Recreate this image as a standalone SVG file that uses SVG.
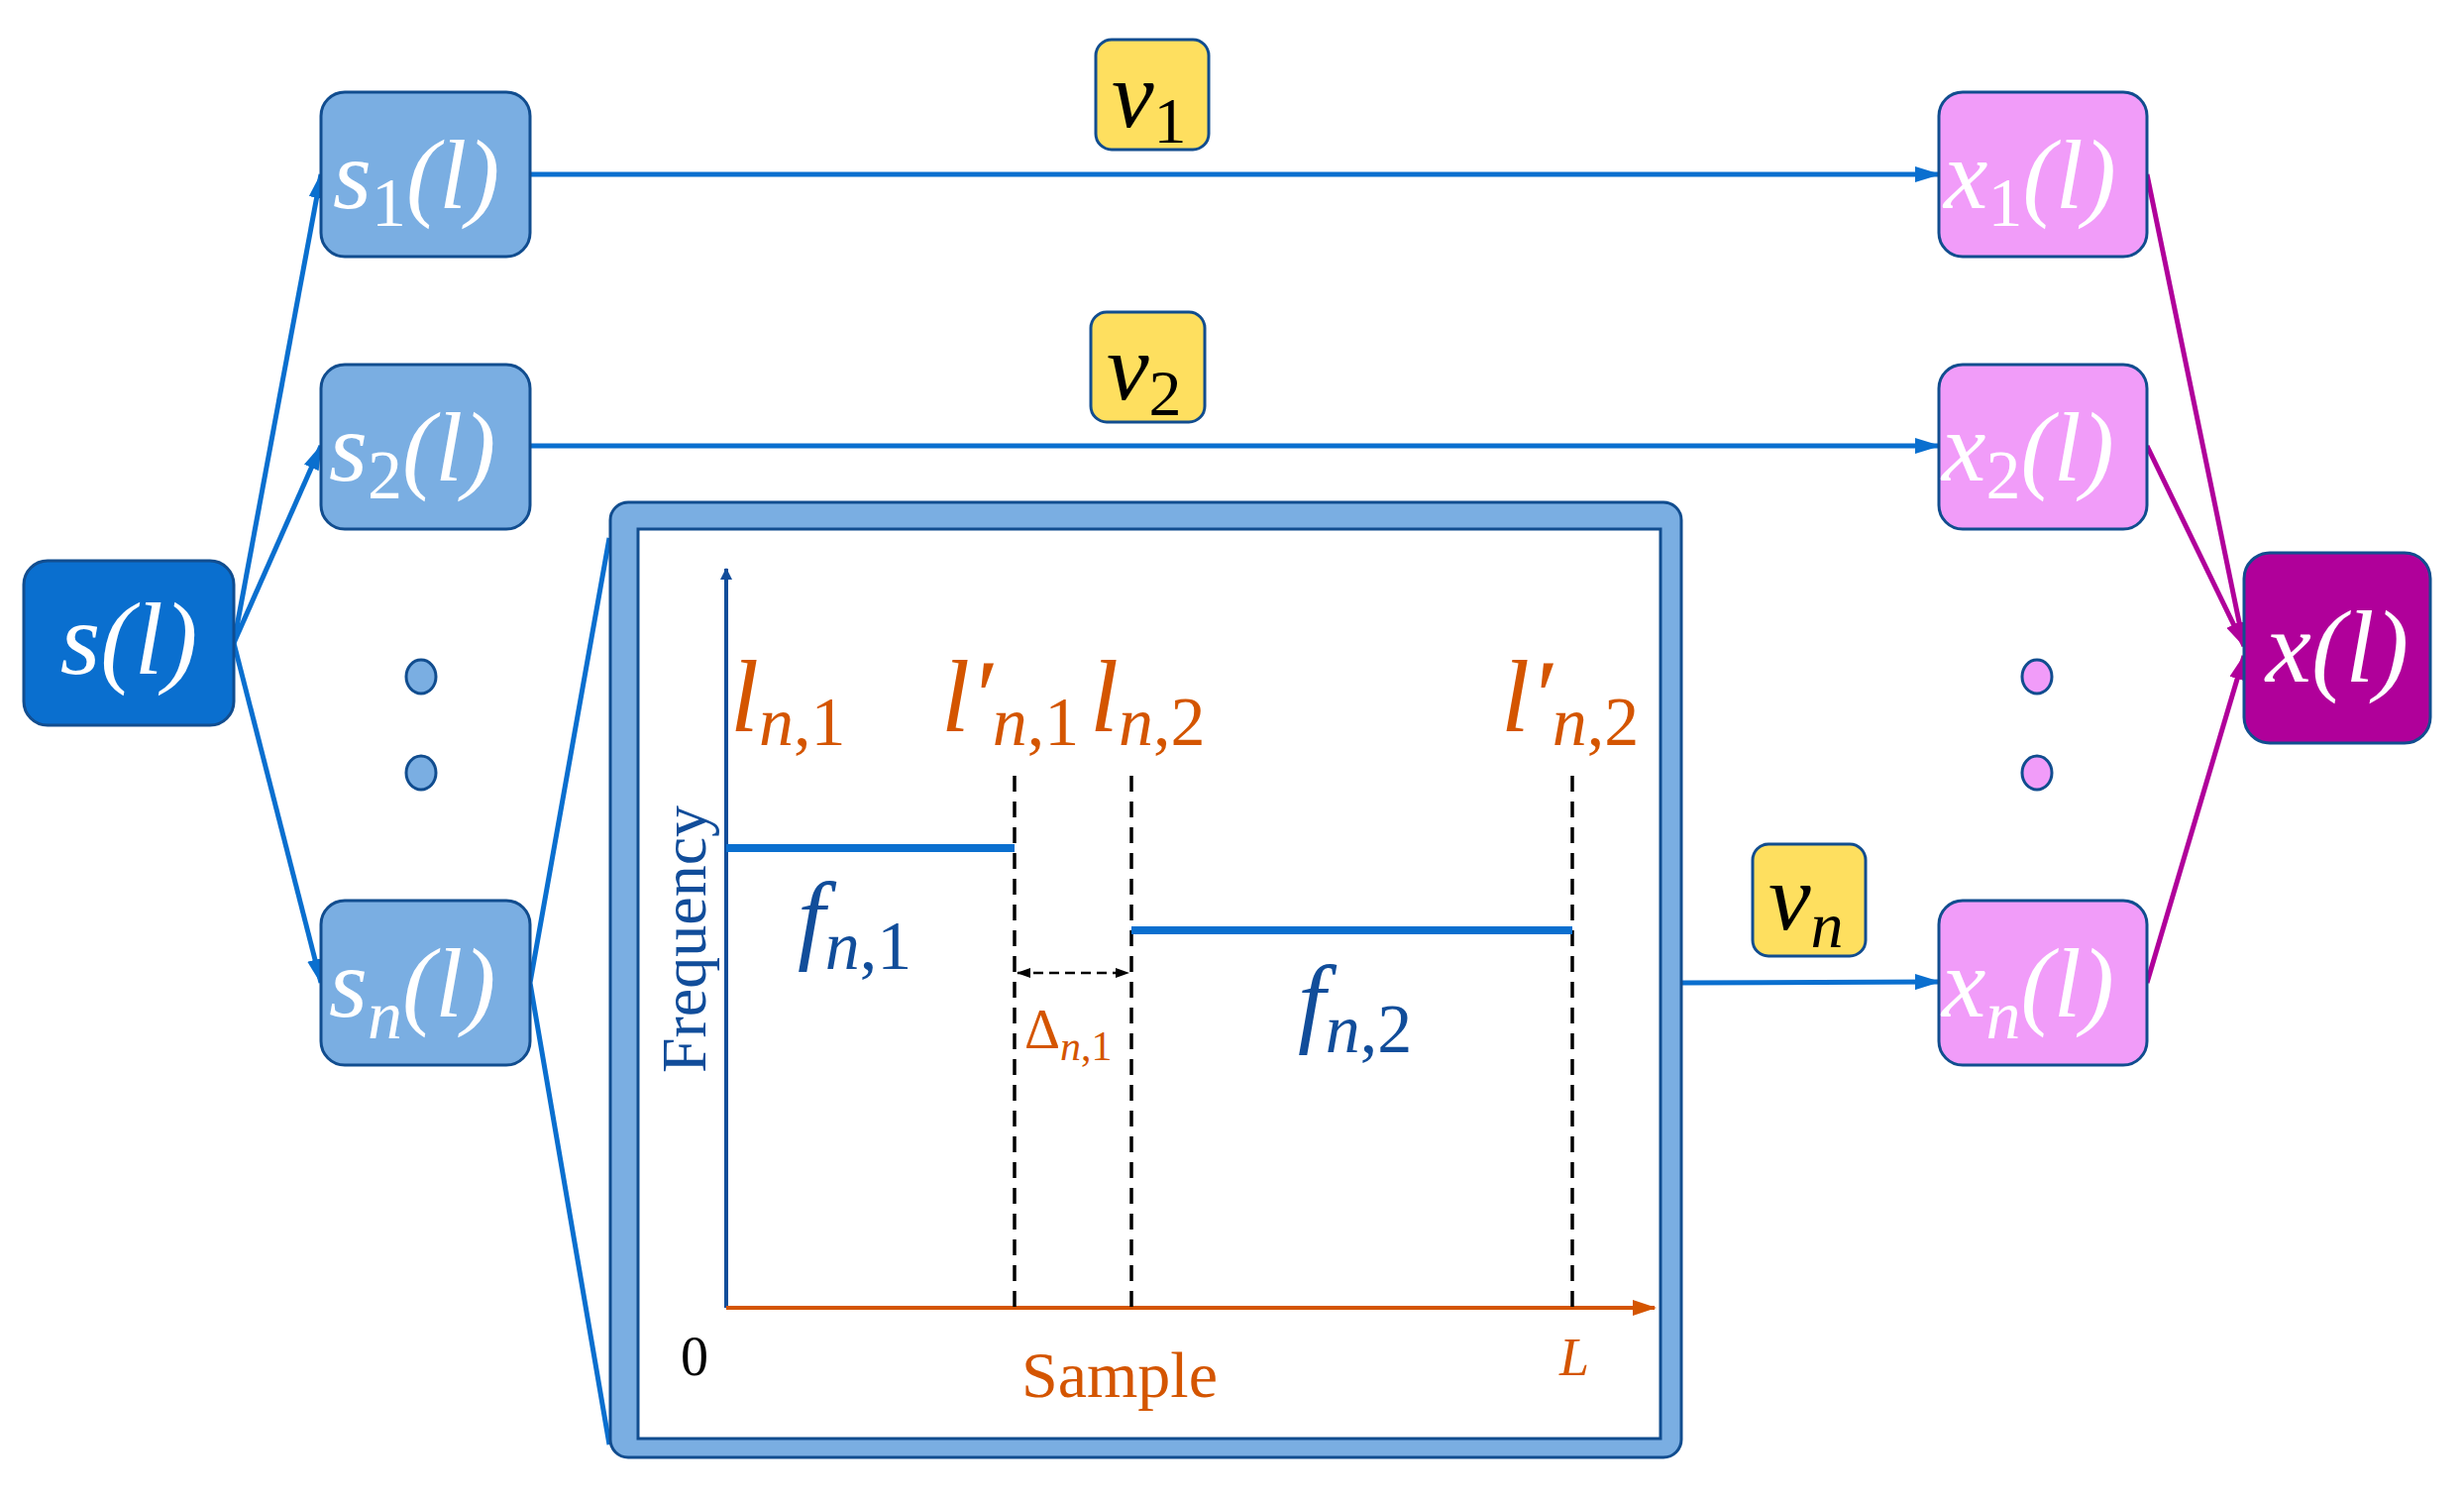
<svg xmlns="http://www.w3.org/2000/svg" width="2487" height="1513" viewBox="0 0 2487 1513">
<defs>
<style>
.m{font-family:"Liberation Serif",serif;font-style:italic}
.w{fill:#fff}
.bl{stroke:#0a6fcf;stroke-width:5;fill:none}
.mg{stroke:#b0009a;stroke-width:5;fill:none}
.sb{fill:#7aaee2;stroke:#114d8f;stroke-width:3}
.xb{fill:#f19cf9;stroke:#114d8f;stroke-width:3}
.vb{fill:#fedf5f;stroke:#114d8f;stroke-width:3}
.or{fill:#d45500}
.dk{fill:#114d9a}
.dotb{fill:#7aaee2;stroke:#114d8f;stroke-width:3}
.dotx{fill:#f19cf9;stroke:#114d8f;stroke-width:3}
</style>
<marker id="ab" markerWidth="12" markerHeight="12" refX="11" refY="6" orient="auto" markerUnits="userSpaceOnUse"><path d="M0,0L12,6L0,12z" fill="#114d9a"/></marker>
<marker id="ab2" markerWidth="26" markerHeight="16" refX="24" refY="8" orient="auto" markerUnits="userSpaceOnUse"><path d="M0,0L26,8L0,16z" fill="#0a6fcf"/></marker>
<marker id="am" markerWidth="26" markerHeight="16" refX="24" refY="8" orient="auto" markerUnits="userSpaceOnUse"><path d="M0,0L26,8L0,16z" fill="#b0009a"/></marker>
<marker id="ao" markerWidth="24" markerHeight="16" refX="22" refY="8" orient="auto" markerUnits="userSpaceOnUse"><path d="M0,0L24,8L0,16z" fill="#d45500"/></marker>
<marker id="ak" markerWidth="14" markerHeight="10" refX="13" refY="5" orient="auto-start-reverse" markerUnits="userSpaceOnUse"><path d="M0,0L14,5L0,10z" fill="#000"/></marker>
</defs>
<g id="connectors">
<path class="bl" marker-end="url(#ab2)" d="M236,649L324,176"/>
<path class="bl" marker-end="url(#ab2)" d="M236,649L324,450"/>
<path class="bl" marker-end="url(#ab2)" d="M236,649L324,992"/>
<path class="bl" marker-end="url(#ab2)" d="M535,176L1957,176"/>
<path class="bl" marker-end="url(#ab2)" d="M535,450L1957,450"/>
<path class="bl" d="M535,992L615,543M535,992L615,1458"/>
<path class="bl" marker-end="url(#ab2)" d="M1698,992L1957,991"/>
<path class="mg" marker-end="url(#am)" d="M2167,176L2265,652"/>
<path class="mg" marker-end="url(#am)" d="M2167,450L2265,652"/>
<path class="mg" marker-end="url(#am)" d="M2167,992L2265,662"/>
</g>
<g id="s"><rect x="24" y="566" width="212" height="166" rx="24" fill="#0a6fcf" stroke="#114d8f" stroke-width="3"/>
<text class="m w" x="130" y="680" font-size="104" text-anchor="middle">s(l)</text></g>
<g id="s1"><rect class="sb" x="324" y="93" width="211" height="166" rx="24"/><text class="m w" x="336" y="210" font-size="100">s<tspan font-size="70" font-style="normal" dy="18">1</tspan><tspan dy="-18">(l)</tspan></text></g>
<g id="s2"><rect class="sb" x="324" y="368" width="211" height="166" rx="24"/><text class="m w" x="332" y="485" font-size="100">s<tspan font-size="70" font-style="normal" dy="18">2</tspan><tspan dy="-18">(l)</tspan></text></g>
<g id="sn"><rect class="sb" x="324" y="909" width="211" height="166" rx="24"/><text class="m w" x="332" y="1026" font-size="100">s<tspan font-size="70" dy="22">n</tspan><tspan dy="-22">(l)</tspan></text></g>
<g id="sdots"><ellipse class="dotb" cx="425" cy="683" rx="15" ry="17"/><ellipse class="dotb" cx="425" cy="780" rx="15" ry="17"/></g>
<g id="v1"><rect class="vb" x="1106" y="40" width="114" height="111" rx="16"/><text class="m" x="1122" y="128" font-size="96">v<tspan font-size="66" font-style="normal" dy="16">1</tspan></text></g>
<g id="v2"><rect class="vb" x="1101" y="315" width="115" height="111" rx="16"/><text class="m" x="1117" y="403" font-size="96">v<tspan font-size="66" font-style="normal" dy="16">2</tspan></text></g>
<g id="vn"><rect class="vb" x="1769" y="852" width="114" height="113" rx="16"/><text class="m" x="1785" y="938" font-size="96">v<tspan font-size="66" dy="18">n</tspan></text></g>
<g id="x1"><rect class="xb" x="1957" y="93" width="210" height="166" rx="24"/><text class="m w" x="1962" y="210" font-size="100">x<tspan font-size="70" font-style="normal" dy="18">1</tspan><tspan dy="-18">(l)</tspan></text></g>
<g id="x2"><rect class="xb" x="1957" y="368" width="210" height="166" rx="24"/><text class="m w" x="1960" y="485" font-size="100">x<tspan font-size="70" font-style="normal" dy="18">2</tspan><tspan dy="-18">(l)</tspan></text></g>
<g id="xn"><rect class="xb" x="1957" y="909" width="210" height="166" rx="24"/><text class="m w" x="1960" y="1026" font-size="100">x<tspan font-size="70" dy="22">n</tspan><tspan dy="-22">(l)</tspan></text></g>
<g id="xdots"><ellipse class="dotx" cx="2056" cy="683" rx="15" ry="17"/><ellipse class="dotx" cx="2056" cy="780" rx="15" ry="17"/></g>
<g id="x"><rect x="2265" y="558" width="188" height="192" rx="26" fill="#b0009a" stroke="#114d8f" stroke-width="3"/><text class="m w" x="2359" y="688" font-size="104" text-anchor="middle">x(l)</text></g>
<g id="panel">
<rect x="616" y="507" width="1081" height="964" rx="18" fill="#7aaee2" stroke="#114d8f" stroke-width="3"/>
<rect x="644" y="534" width="1032" height="918" fill="#fff" stroke="#114d8f" stroke-width="3"/>
<path d="M733,1320L733,574" stroke="#114d9a" stroke-width="4" marker-end="url(#ab)"/>
<path d="M733,1320L1670,1320" stroke="#d45500" stroke-width="4" marker-end="url(#ao)"/>
<path d="M1024,783V1320M1142,783V1320M1587,783V1320" stroke="#000" stroke-width="3.5" stroke-dasharray="16,10"/>
<path d="M733,856H1024M1142,939H1587" stroke="#0a6fcf" stroke-width="8"/>
<path d="M1027,982H1139" stroke="#000" stroke-width="2.5" stroke-dasharray="10,6" marker-start="url(#ak)" marker-end="url(#ak)"/>
<text class="m or" x="737" y="738" font-size="104">l<tspan font-size="70" dy="14">n</tspan><tspan font-size="70" font-style="normal">,1</tspan></text>
<text class="m or" x="950" y="738" font-size="104">l′<tspan font-size="70" dy="14">n</tspan><tspan font-size="70" font-style="normal">,1</tspan></text>
<text class="m or" x="1100" y="738" font-size="104">l<tspan font-size="70" dy="14">n</tspan><tspan font-size="70" font-style="normal">,2</tspan></text>
<text class="m or" x="1515" y="738" font-size="104">l′<tspan font-size="70" dy="14">n</tspan><tspan font-size="70" font-style="normal">,2</tspan></text>
<text class="m dk" x="805" y="960" font-size="100">f<tspan font-size="70" dy="18">n</tspan><tspan font-size="70" font-style="normal">,1</tspan></text>
<text class="m dk" x="1310" y="1044" font-size="100">f<tspan font-size="70" dy="18">n</tspan><tspan font-size="70" font-style="normal">,2</tspan></text>
<text class="or" x="1034" y="1058" font-size="56" font-family="Liberation Serif,serif">Δ<tspan font-style="italic" font-size="42" dy="12">n</tspan><tspan font-size="42">,1</tspan></text>
<text class="dk" transform="translate(712,948) rotate(-90)" font-size="64" text-anchor="middle" font-family="Liberation Serif,serif">Frequency</text>
<text x="701" y="1388" font-size="56" text-anchor="middle" font-family="Liberation Serif,serif">0</text>
<text class="or" x="1130" y="1410" font-size="66" text-anchor="middle" font-family="Liberation Serif,serif">Sample</text>
<text class="m or" x="1589" y="1388" font-size="54" text-anchor="middle">L</text>
</g>
</svg>
